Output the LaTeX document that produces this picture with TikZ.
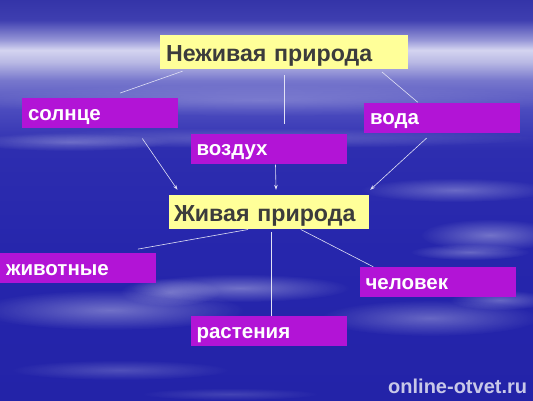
\documentclass[tikz,border=0pt]{standalone}
\usepackage{fontspec}
\setmainfont{Liberation Sans}
\usetikzlibrary{calc,fadings,arrows.meta}

\definecolor{boxyellow}{RGB}{255,255,153}
\definecolor{boxpink}{RGB}{178,20,214}
\definecolor{titlegray}{RGB}{60,60,60}
\definecolor{linkwhite}{RGB}{225,225,245}
\definecolor{markgray}{RGB}{200,200,232}
\definecolor{skytop}{RGB}{52,52,168}
\definecolor{skytopb}{RGB}{62,62,176}
\definecolor{skyhaze}{RGB}{150,150,215}
\definecolor{skywhite}{RGB}{212,212,240}
\definecolor{skypale}{RGB}{185,185,228}
\definecolor{skylav}{RGB}{120,120,205}
\definecolor{skymid}{RGB}{75,75,190}
\definecolor{skyblue}{RGB}{45,45,175}
\definecolor{skydeep}{RGB}{38,38,172}
\definecolor{skylow}{RGB}{35,35,168}

\pgfdeclareverticalshading{sky}{100bp}{
  color(0bp)=(skylow); color(25bp)=(skylow); color(43.75bp)=(skydeep);
  color(56.25bp)=(skyblue); color(61.25bp)=(skymid); color(65bp)=(skylav);
  color(67.25bp)=(skypale); color(68.75bp)=(skywhite); color(70bp)=(skyhaze);
  color(72.5bp)=(skytopb); color(75bp)=(skytop); color(100bp)=(skytop)}

\tikzfading[name=softfade, inner color=transparent!0, outer color=transparent!100]

\tikzset{
  yellowbox/.style={fill=boxyellow, text=titlegray,
    font=\fontsize{23.2}{25}\selectfont\bfseries,
    inner xsep=6pt, align=left, minimum height=34pt,
    text height=19pt, text depth=0pt},
  pinkbox/.style={fill=boxpink, text=white,
    font=\fontsize{20.5}{22}\selectfont\bfseries,
    text width=144pt, inner xsep=6pt, align=left,
    minimum height=30pt, text height=14pt, text depth=0pt},
  link/.style={linkwhite, line width=0.6pt},
  cloud/.style={white, path fading=softfade}
}

\begin{document}
\begin{tikzpicture}[x=1pt, y=-1pt, >={Stealth[length=5pt, width=3.5pt]}]
  \useasboundingbox (0,0) rectangle (533,400);
  \shade [shading=sky] (0,0) rectangle (533,400);
  % streaks of cloud
  \foreach \cx/\cy/\rx/\ry/\op in {260/100/300/16/0.2, 260/138/280/10/0.2,
      70/142/100/9/0.25, 455/190/95/12/0.3, 490/235/70/16/0.35,
      470/252/60/8/0.3, 110/310/135/20/0.35, 240/288/110/14/0.35,
      170/292/50/14/0.3, 430/318/110/18/0.3, 500/300/50/10/0.3,
      120/370/110/10/0.2, 230/394/90/6/0.15} {
    \fill [cloud, opacity=\op] (\cx,\cy) ellipse ({\rx} and {\ry});
  }

  \node [yellowbox, text width=236pt] (neziv) at (284,52) {Неживая природа};
  \node [yellowbox, text width=190pt, inner xsep=5pt] (zhiv) at (269,212) {Живая природа};
  \foreach \n/\x/\y/\t in {solnce/100/113/солнце, vozduh/268.5/148.5/воздух,
      voda/442/117.5/вода, zhivotnye/78/268/животные,
      rastenia/268.5/331/растения, chelovek/437.5/282/человек} {
    \node [pinkbox] (\n) at (\x,\y) {\t};
  }

  \draw [link] ($(neziv.south west)+(22.7,2)$) -- ($(solnce.north)+(20,-4.7)$);
  \draw [link] ($(neziv.south)+(0,6)$) -- ($(neziv.south |- vozduh.north)+(0,-9)$);
  \draw [link] ($(neziv.south east)+(-26.3,2.7)$) -- ($(voda.north west)+(54,0)$);

  \draw [link, ->] ($(solnce.south)+(42.3,10.3)$) -- ($(zhiv.north west)+(8.7,-5)$);
  \draw [link, ->] ($(vozduh.south)+(7,1)$) -- ($(zhiv.north)+(7,-5)$);
  \draw [link, ->] ($(voda.south)+(-15.3,5.3)$) -- ($(zhiv.north east)+(1,-5)$);

  \draw [link] ($(zhiv.south)+(-21,0.3)$) -- ($(zhivotnye.north east)+(-18.3,-3.7)$);
  \draw [link] ($(zhiv.south)+(2.2,2.7)$) -- ($(rastenia.north)+(2.7,0)$);
  \draw [link] ($(zhiv.south)+(31.8,0.3)$) -- ($(chelovek.north west)+(14,0)$);

  \node [markgray, font=\fontsize{20}{22}\selectfont\bfseries, anchor=base west,
    inner sep=0pt] (mark) at (388,393) {online-otvet.ru};
\end{tikzpicture}
\end{document}
